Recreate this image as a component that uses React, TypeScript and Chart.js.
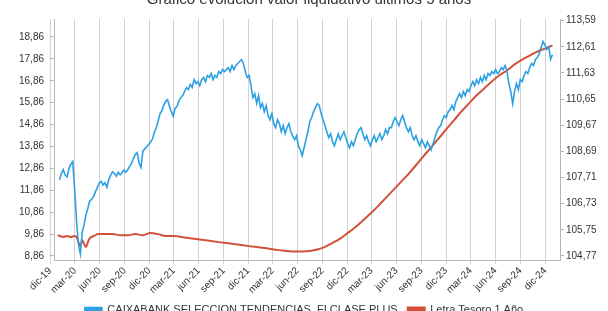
import React, { useEffect, useRef } from "react";
import { Chart, registerables } from "chart.js";

Chart.register(...registerables);

const TITLE = "Gráfico evolución valor liquidativo últimos 5 años";
const FUND_LABEL = "CAIXABANK SELECCION TENDENCIAS, FI CLASE PLUS";
const BOND_LABEL = "Letra Tesoro 1 Año";

const X_TICK_LABELS = [
  "dic-19", "mar-20", "jun-20", "sep-20", "dic-20", "mar-21", "jun-21", "sep-21",
  "dic-21", "mar-22", "jun-22", "sep-22", "dic-22", "mar-23", "jun-23", "sep-23",
  "dic-23", "mar-24", "jun-24", "sep-24", "dic-24",
];
const X_TICK_DATES = [
  "2019-12-01", "2020-03-01", "2020-06-01", "2020-09-01", "2020-12-01", "2021-03-01",
  "2021-06-01", "2021-09-01", "2021-12-01", "2022-03-01", "2022-06-01", "2022-09-01",
  "2022-12-01", "2023-03-01", "2023-06-01", "2023-09-01", "2023-12-01", "2024-03-01",
  "2024-06-01", "2024-09-01", "2024-12-01",
];
const ORIGIN_DATE = "2019-12-01";
const X_MIN_DAY = 13.8;
const X_MAX_DAY = 1881.7;

const LEFT_TICKS = [8.86, 9.86, 10.86, 11.86, 12.86, 13.86, 14.86, 15.86, 16.86, 17.86, 18.86];
const RIGHT_TICKS = [104.77, 105.75, 106.73, 107.71, 108.69, 109.67, 110.65, 111.63, 112.61, 113.59];
const LEFT_MIN = 8.677;
const LEFT_MAX = 19.68;
const RIGHT_MIN = 104.62;
const RIGHT_MAX = 113.65;

// weekly net asset values, first on 2020-01-04
const FUND_START = "2020-01-04";
const FUND_VALUES = [
  12.34, 12.62, 12.80, 12.55, 12.47, 12.85, 13.05, 13.17, 11.90, 10.45,
  9.40, 8.95, 9.95, 10.30, 10.75, 11.05, 11.38, 11.45, 11.57, 11.80,
  12.00, 12.20, 12.26, 12.10, 12.20, 12.00, 12.35, 12.55, 12.70, 12.62,
  12.50, 12.68, 12.57, 12.66, 12.78, 12.68, 12.80, 12.95, 13.10, 13.30,
  13.50, 13.57, 13.10, 12.90, 13.65, 13.75, 13.85, 13.95, 14.05, 14.20,
  14.50, 14.70, 15.00, 15.35, 15.50, 15.75, 15.92, 16.00, 15.70, 15.45,
  15.24, 15.60, 15.69, 15.95, 16.09, 16.18, 16.37, 16.55, 16.46, 16.69,
  16.55, 16.91, 16.73, 16.82, 16.64, 16.91, 17.01, 16.82, 17.10, 17.01,
  17.19, 16.91, 17.10, 17.01, 17.28, 17.19, 17.37, 17.28, 17.37, 17.46,
  17.28, 17.56, 17.37, 17.56, 17.65, 17.74, 17.83, 17.65, 17.28, 17.01,
  17.10, 16.64, 16.09, 16.27, 15.82, 16.18, 15.63, 15.82, 15.45, 15.73,
  15.27, 15.08, 15.36, 14.90, 14.72, 15.08, 14.90, 14.53, 14.81, 14.44,
  14.72, 14.90, 14.53, 14.35, 14.17, 14.35, 13.89, 13.71, 13.44, 13.80,
  14.17, 14.53, 14.99, 15.18, 15.45, 15.63, 15.82, 15.73, 15.36, 15.08,
  14.81, 14.53, 14.26, 14.44, 14.08, 13.89, 14.17, 14.44, 14.17, 14.35,
  14.53, 14.26, 13.99, 13.80, 14.08, 13.89, 14.17, 14.44, 14.63, 14.72,
  14.44, 14.17, 14.35, 14.08, 13.89, 14.17, 14.35, 14.08, 14.26, 14.44,
  14.17, 14.35, 14.63, 14.44, 14.72, 14.72, 14.99, 15.18, 14.99, 14.81,
  15.08, 15.27, 14.99, 14.72, 14.53, 14.72, 14.35, 14.17, 14.35, 14.08,
  13.89, 14.17, 13.99, 13.80, 14.08, 13.89, 13.71, 13.99, 14.26, 14.53,
  14.72, 14.81, 15.08, 15.27, 15.18, 15.45, 15.54, 15.73, 15.54, 15.91,
  16.09, 16.27, 16.09, 16.37, 16.18, 16.46, 16.37, 16.64, 16.82, 16.64,
  16.91, 16.73, 17.01, 16.82, 17.10, 16.91, 17.19, 17.10, 17.28, 17.19,
  17.37, 17.19, 17.28, 17.46, 17.37, 17.56, 17.28, 16.73, 16.37, 15.82,
  16.37, 16.73, 16.46, 16.91, 16.82, 17.10, 17.28, 17.19, 17.46, 17.65,
  17.56, 17.83, 17.92, 18.10, 18.38, 18.65, 18.50, 18.30, 18.40, 17.85,
  18.05,
];

// 1-year Treasury bill index, sampled at week numbers counted from 2020-01-04
const BOND_WEEKS = [
  -1, 0, 2, 4, 6, 8,
  9, 10, 11, 12, 13, 14, 15, 16, 17, 18, 19, 20,
  24, 28, 32, 36, 40, 44, 48, 52, 56, 60,
  68, 76, 84, 92, 100, 108, 116, 124, 132,
  136, 140, 144, 148, 152, 156, 160, 164, 168, 172, 176, 180, 184, 188, 192,
  196, 200, 204, 208, 212, 216, 220, 224, 228, 232, 236, 240, 244, 248, 252, 256, 260,
];
const BOND_VALUES = [
  105.55, 105.52, 105.48, 105.52, 105.48, 105.52,
  105.48, 105.29, 105.14, 105.37, 105.22, 105.11, 105.29, 105.44, 105.48, 105.52, 105.55, 105.59,
  105.59, 105.59, 105.55, 105.55, 105.59, 105.55, 105.63, 105.59, 105.52, 105.52,
  105.44, 105.37, 105.29, 105.22, 105.14, 105.07, 104.99, 104.94, 104.96,
  105.01, 105.11, 105.26, 105.42, 105.63, 105.85, 106.10, 106.36, 106.64, 106.94, 107.24, 107.54, 107.84, 108.17, 108.51,
  108.84, 109.18, 109.52, 109.85, 110.19, 110.49, 110.79, 111.05, 111.31, 111.54, 111.72, 111.95, 112.13, 112.28, 112.43, 112.54, 112.66,
];

const FONT = "'Liberation Sans', Arial, Helvetica, sans-serif";
const TEXT = "#333333";
const BLUE = "#2ba0e2";
const RED = "#d2513a";
const GRID = "#d2d2d2";
const AXIS = "#b5b5b5";

const DAY_MS = 86400000;
const dayOf = (d: string) => (Date.parse(d) - Date.parse(ORIGIN_DATE)) / DAY_MS;
const fmt = (v: number) => v.toFixed(2).replace(".", ",");

const titlePlugin = {
  id: "clippedTitle",
  afterDraw(chart: any) {
    const ctx = chart.ctx;
    ctx.save();
    ctx.font = `15px ${FONT}`;
    ctx.fillStyle = TEXT;
    ctx.textAlign = "center";
    ctx.textBaseline = "alphabetic";
    ctx.fillText(TITLE, 309, 4);
    ctx.restore();
  },
};

export default function App() {
  const ref = useRef<HTMLCanvasElement | null>(null);

  useEffect(() => {
    if (!ref.current) return;
    const fundStart = dayOf(FUND_START);
    const fundPts = FUND_VALUES.map((v, i) => ({ x: fundStart + 7 * i, y: v }));
    const bondPts = BOND_WEEKS.map((w, i) => ({ x: fundStart + 7 * w, y: BOND_VALUES[i] }));
    const tickDays = X_TICK_DATES.map(dayOf);
    const tickFont = { size: 10, family: FONT };

    const chart = new Chart(ref.current, {
      type: "line",
      data: {
        datasets: [
          {
            label: FUND_LABEL,
            data: fundPts,
            borderColor: BLUE,
            backgroundColor: BLUE,
            borderWidth: 1.6,
            pointRadius: 0,
            tension: 0,
            yAxisID: "y",
          },
          {
            label: BOND_LABEL,
            data: bondPts,
            borderColor: RED,
            backgroundColor: RED,
            borderWidth: 2,
            pointRadius: 0,
            cubicInterpolationMode: "monotone",
            yAxisID: "y1",
          },
        ],
      },
      options: {
        responsive: false,
        animation: false,
        layout: { padding: { top: 19, left: 0, right: 0, bottom: 0 } },
        plugins: {
          legend: {
            position: "bottom",
            labels: {
              boxWidth: 17,
              boxHeight: 4,
              padding: 10,
              color: TEXT,
              font: { size: 11, family: FONT },
            },
          },
          tooltip: { enabled: false },
          title: { display: false },
        },
        scales: {
          x: {
            type: "linear",
            min: X_MIN_DAY,
            max: X_MAX_DAY,
            afterBuildTicks: (s: any) => {
              s.ticks = tickDays.map((v) => ({ value: v }));
            },
            afterFit: (s: any) => {
              s.height = 34;
            },
            ticks: {
              autoSkip: false,
              minRotation: 45,
              maxRotation: 45,
              padding: 1,
              color: TEXT,
              font: tickFont,
              callback: (_v: any, i: number) => X_TICK_LABELS[i],
            },
            grid: { color: GRID, tickLength: 4 },
            border: { color: AXIS },
          },
          y: {
            position: "left",
            min: LEFT_MIN,
            max: LEFT_MAX,
            afterBuildTicks: (s: any) => {
              s.ticks = LEFT_TICKS.map((v) => ({ value: v }));
            },
            afterFit: (s: any) => {
              s.width = 54;
            },
            ticks: {
              padding: 6,
              color: TEXT,
              font: tickFont,
              callback: (v: any) => fmt(Number(v)),
            },
            grid: { drawOnChartArea: false, tickLength: 4, color: AXIS },
            border: { color: AXIS },
          },
          y1: {
            position: "right",
            min: RIGHT_MIN,
            max: RIGHT_MAX,
            afterBuildTicks: (s: any) => {
              s.ticks = RIGHT_TICKS.map((v) => ({ value: v }));
            },
            afterFit: (s: any) => {
              s.width = 48;
            },
            ticks: {
              padding: 2,
              color: TEXT,
              font: tickFont,
              callback: (v: any) => fmt(Number(v)),
            },
            grid: { drawOnChartArea: false, tickLength: 4, color: AXIS },
            border: { color: AXIS },
          },
        },
      } as any,
      plugins: [titlePlugin],
    });
    return () => chart.destroy();
  }, []);

  return (
    <div
      style={{
        position: "fixed",
        left: 0,
        top: 0,
        width: 608,
        height: 311,
        overflow: "hidden",
        background: "#ffffff",
      }}
    >
      <canvas ref={ref} width={608} height={325} style={{ display: "block", width: 608, height: 325 }} />
    </div>
  );
}
